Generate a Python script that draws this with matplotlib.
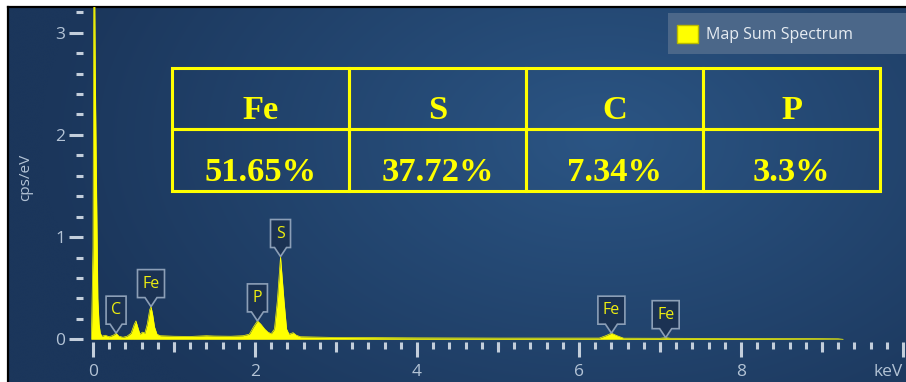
import numpy as np
import matplotlib
matplotlib.use("Agg")
import matplotlib.pyplot as plt
from matplotlib import transforms as mtransforms
from matplotlib.patches import Polygon, Rectangle
from matplotlib.ticker import MultipleLocator, FixedLocator, FixedFormatter

# ---- spectrum (energy in keV, intensity in cps/eV) ----
energy_kev = [
    -0.02, 0.0, 0.01, 0.02, 0.028, 0.045, 0.06, 0.075, 0.09, 0.11,
    0.15, 0.2, 0.25, 0.285, 0.32, 0.37, 0.42, 0.47, 0.51, 0.53,
    0.56, 0.58, 0.61, 0.64, 0.67, 0.70, 0.716, 0.735, 0.76, 0.79,
    0.83, 1.0, 1.2, 1.4, 1.5, 1.7, 1.85, 1.93, 1.98, 2.03,
    2.07, 2.12, 2.16, 2.2, 2.24, 2.276, 2.315, 2.358, 2.39, 2.42,
    2.47, 2.51, 2.56, 3.0, 4.0, 5.0, 6.0, 6.25, 6.33, 6.40,
    6.47, 6.55, 7.0, 7.07, 7.13, 8.0, 9.0, 9.2, 9.26,
]
counts_cps_ev = [
    0.0, 0.9, 3.5, 3.5, 2.6, 1.4, 0.4, 0.15, 0.06, 0.03,
    0.04, 0.025, 0.04, 0.06, 0.03, 0.02, 0.03, 0.06, 0.15, 0.18,
    0.10, 0.05, 0.07, 0.06, 0.15, 0.29, 0.32, 0.25, 0.12, 0.05,
    0.035, 0.03, 0.028, 0.035, 0.032, 0.03, 0.035, 0.05, 0.12, 0.18,
    0.15, 0.10, 0.07, 0.055, 0.10, 0.38, 0.81, 0.38, 0.10, 0.05,
    0.065, 0.04, 0.025, 0.018, 0.014, 0.012, 0.012, 0.012, 0.035, 0.06,
    0.035, 0.011, 0.01, 0.016, 0.01, 0.008, 0.006, 0.005, 0.0,
]

# ---- identified lines ----
peak_labels = ["C", "Fe", "P", "S", "Fe", "Fe"]
peak_energies = [0.285, 0.716, 2.03, 2.315, 6.40, 7.07]

# ---- composition table ----
elements = ["Fe", "S", "C", "P"]
weight_pct = [51.65, 37.72, 7.34, 3.3]

# ---- axis ticks ----
x_major = [0, 2, 4, 6, 8, 10]
x_major_labels = ["0", "2", "4", "6", "8", "keV"]
x_mid = [1, 3, 5, 7, 9]
y_major = [0, 1, 2, 3]
y_major_labels = ["0", "1", "2", "3"]

W, H, DPI = 906, 382, 100
YELLOW = "#ffff00"
TICK_C = "#c3cedb"
LABEL_C = "#b3c3d5"
FONT = ["Open Sans", "DejaVu Sans"]

fig = plt.figure(figsize=(W / DPI, H / DPI), dpi=DPI, facecolor="white")


def px_rect(x0, y0, x1, y1):
    """Pixel box (top-left origin) -> figure-fraction rect."""
    return [x0 / W, 1 - y1 / H, (x1 - x0) / W, (y1 - y0) / H]


# ---- panel background with soft radial gradient ----
bg = fig.add_axes(px_rect(8, 7, 906, 382))
ny, nx = 200, 480
yy, xx = np.mgrid[0:1:ny * 1j, 0:1:nx * 1j]
d = np.sqrt(((xx - 0.66) / 0.62) ** 2 + ((yy - 0.35) / 0.95) ** 2)
d = np.clip(d, 0, 1)[..., None]
c_in = np.array(matplotlib.colors.to_rgb("#2b5584"))
c_out = np.array(matplotlib.colors.to_rgb("#1b365b"))
img = c_in * (1 - d) + c_out * d
bg.imshow(img, extent=(0, 1, 0, 1), aspect="auto", origin="upper", interpolation="bicubic")
bg.set_xlim(0, 1)
bg.set_ylim(0, 1)
bg.set_xticks([])
bg.set_yticks([])
for side in ("right", "bottom"):
    bg.spines[side].set_visible(False)
for side in ("top", "left"):
    bg.spines[side].set_color("black")
    bg.spines[side].set_linewidth(1.6)

# ---- spectrum axes ----
ax = fig.add_axes(px_rect(83, 7, 906, 342))
ax.set_facecolor("none")
ax.set_xlim((83 - 93) / 81.0, (906 - 93) / 81.0)
ax.set_ylim(-(342 - 339.3) / 102.2, (339.3 - 7) / 102.2)
for s in ax.spines.values():
    s.set_visible(False)

ax.fill_between(energy_kev, counts_cps_ev, 0, color=YELLOW, lw=0,
                label="Map Sum Spectrum", zorder=3)
ax.plot(energy_kev, counts_cps_ev, color=YELLOW, lw=0.5, zorder=3)

ax.xaxis.set_major_locator(FixedLocator(x_major))
ax.xaxis.set_major_formatter(FixedFormatter(x_major_labels))
ax.xaxis.set_minor_locator(MultipleLocator(0.2))
ax.yaxis.set_major_locator(FixedLocator(y_major))
ax.yaxis.set_major_formatter(FixedFormatter(y_major_labels))
ax.yaxis.set_minor_locator(MultipleLocator(0.2))

ax.tick_params(axis="x", which="major", direction="out", length=11, width=2.2,
               color=TICK_C, labelcolor=LABEL_C, labelsize=12.5, pad=5)
ax.tick_params(axis="x", which="minor", direction="out", length=5, width=2.2,
               color=TICK_C)
ax.tick_params(axis="y", which="major", direction="out", length=10, width=2.2,
               color=TICK_C, labelcolor=LABEL_C, labelsize=12.5, pad=3)
ax.tick_params(axis="y", which="minor", direction="out", length=5, width=2.2,
               color=TICK_C)
for lab in ax.get_xticklabels() + ax.get_yticklabels():
    lab.set_family(FONT)
# unit label sits at the right end of the axis; keep it inside the frame
ax.get_xticklabels()[-1].set_horizontalalignment("right")

sec = ax.secondary_xaxis("bottom")
sec.set_xticks(x_mid)
sec.tick_params(axis="x", direction="out", length=7.5, width=2.2,
                color=TICK_C, labelbottom=False)
for s in sec.spines.values():
    s.set_visible(False)

fig.text(26 / W, 1 - 177 / H, "cps/eV", rotation=90, ha="center", va="center",
         fontsize=11, color=LABEL_C, family=FONT)

# ---- peak callouts ----
tri_h, box_h, half = 9, 28, 6
for name, e in zip(peak_labels, peak_energies):
    top = float(np.interp(e, energy_kev, counts_cps_ev))
    w = 27 if len(name) > 1 else 20
    verts = [(0, 0), (half, tri_h), (w / 2, tri_h), (w / 2, tri_h + box_h),
             (-w / 2, tri_h + box_h), (-w / 2, tri_h), (-half, tri_h)]
    trans = (mtransforms.Affine2D().scale(1.0 / DPI) + fig.dpi_scale_trans
             + mtransforms.ScaledTranslation(e, top, ax.transData))
    ax.add_patch(Polygon(verts, closed=True, transform=trans, facecolor="#1b3253",
                         edgecolor="#8c9fb7", lw=1.2, zorder=5, clip_on=False))
    ax.annotate(name, xy=(e, top), xytext=(0, (tri_h + box_h / 2) * 72 / DPI),
                textcoords="offset points", ha="center", va="center",
                color="#eeee10", fontsize=11.5, family=FONT, zorder=6)

# ---- composition table ----
x0, y0 = (172 - 83) / 823, (342 - 191) / 335
tbl = ax.table(cellText=[elements, [f"{v}%" for v in weight_pct]],
               cellLoc="center", bbox=[x0, y0, 708 / 823, 123 / 335], zorder=4)
tbl.auto_set_font_size(False)
tbl.set_fontsize(24.8)
for (r, c), cell in tbl.get_celld().items():
    cell.set_edgecolor(YELLOW)
    cell.set_facecolor("none")
    cell.set_linewidth(2.2)
    t = cell.get_text()
    t.set_color(YELLOW)
    t.set_family("Liberation Serif")
    t.set_weight("bold")
    t.set_fontsize(24.8)
    # cell texts are positioned in display pixels; sit them a little low
    t.set_transform(mtransforms.Affine2D().translate(0, -12 * DPI / 100))

# ---- legend ----
fig.patches.append(Rectangle((668 / W, 1 - 54 / H), (906 - 668) / W, 41 / H,
                             transform=fig.transFigure, facecolor="#4b6789",
                             edgecolor="none", zorder=8))
leg = fig.legend(loc="center left", bbox_to_anchor=(677 / W, 1 - 34 / H),
                 bbox_transform=fig.transFigure, frameon=False, borderpad=0,
                 borderaxespad=0, handlelength=1.31, handleheight=1.37,
                 handletextpad=0.5, prop={"family": FONT, "size": 11.5},
                 labelcolor="#e6ecf2")
leg.set_zorder(9)
for h in leg.legend_handles:
    h.set_edgecolor("#b8b800")
    h.set_linewidth(1.0)

fig.savefig("out.png", dpi=DPI, facecolor="white")
